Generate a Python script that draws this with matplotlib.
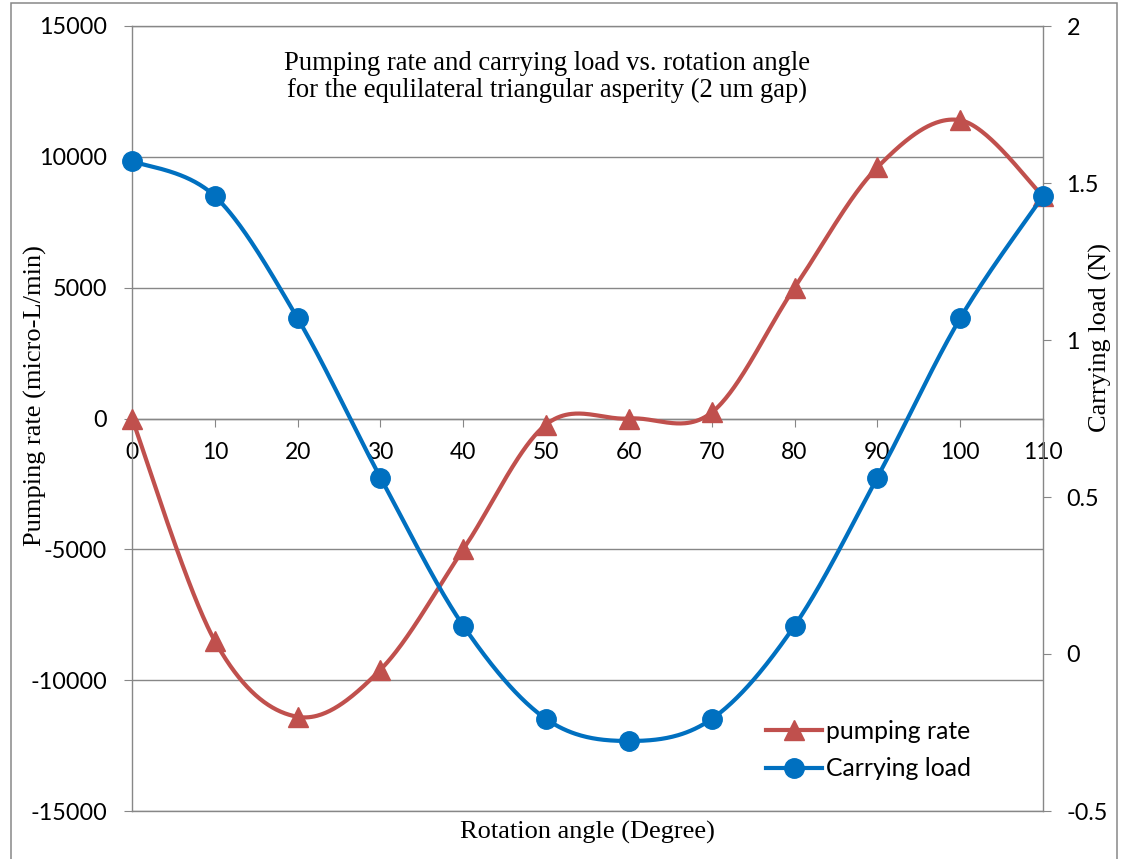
import numpy as np
import matplotlib
matplotlib.use("Agg")
import matplotlib.pyplot as plt
from matplotlib.lines import Line2D
from matplotlib.patches import Rectangle

# ---- data ----
angles = [0, 10, 20, 30, 40, 50, 60, 70, 80, 90, 100, 110]
pumping_rate = [0, -8500, -11400, -9600, -5000, -230, 0, 230, 5000, 9600, 11400, 8500]
carrying_load = [1.57, 1.458, 1.069, 0.562, 0.09, -0.207, -0.277, -0.207, 0.09, 0.562, 1.069, 1.458]

left_ticks = [-15000, -10000, -5000, 0, 5000, 10000, 15000]
right_ticks = [-0.5, 0, 0.5, 1, 1.5, 2]
right_tick_labels = ["-0.5", "0", "0.5", "1", "1.5", "2"]
x_ticks = angles

title_text = ("Pumping rate and carrying load vs. rotation angle\n"
              "for the equlilateral triangular asperity (2 um gap)")

RED = "#C0504D"
BLUE = "#0070C0"
GRID = "#878787"
SANS = "Lato"
SERIF = "Liberation Serif"


def excel_smooth(x, y, n=60):
    """Bezier smoothing similar to Excel's 'smoothed line'."""
    x = np.asarray(x, float)
    y = np.asarray(y, float)
    px = np.concatenate([[x[0]], x, [x[-1]]])
    py = np.concatenate([[y[0]], y, [y[-1]]])
    xs, ys = [], []
    t = np.linspace(0, 1, n)
    for i in range(len(x) - 1):
        p0 = np.array([px[i + 1], py[i + 1]])
        p3 = np.array([px[i + 2], py[i + 2]])
        pm = np.array([px[i], py[i]])
        pp = np.array([px[i + 3], py[i + 3]])
        c1 = p0 + (p3 - pm) / 6.0
        c2 = p3 - (pp - p0) / 6.0
        b = ((1 - t) ** 3)[:, None] * p0 + (3 * (1 - t) ** 2 * t)[:, None] * c1 \
            + (3 * (1 - t) * t ** 2)[:, None] * c2 + (t ** 3)[:, None] * p3
        xs.append(b[:, 0])
        ys.append(b[:, 1])
    return np.concatenate(xs), np.concatenate(ys)


W, H = 1122, 859
fig = plt.figure(figsize=(W / 100, H / 100), dpi=100)

# outer chart border
fig.patches.append(Rectangle((11 / W, -0.01), (1117 - 11) / W, 1.01 - 3 / H,
                             transform=fig.transFigure, fill=False,
                             edgecolor=GRID, linewidth=1.1))

ax = fig.add_axes([132 / W, 1 - 811 / H, (1043 - 132) / W, (811 - 26) / H])
ax2 = ax.twinx()

ax.set_xlim(0, 110)
ax.set_ylim(-15000, 15000)
ax2.set_ylim(-0.5, 2)

# grid & spines
ax.set_yticks(left_ticks)
ax.set_yticklabels([str(v) for v in left_ticks])
ax.yaxis.grid(True, color=GRID, linewidth=1.0)
ax.set_axisbelow(True)
for a in (ax, ax2):
    for s in a.spines.values():
        s.set_color(GRID)
        s.set_linewidth(1.0)
ax.spines["right"].set_visible(False)
ax.spines["bottom"].set_position(("data", 0))
ax2.spines["left"].set_visible(False)
ax2.spines["bottom"].set_visible(False)
ax2.spines["top"].set_visible(False)
ax.axhline(-15000, color=GRID, linewidth=1.0, clip_on=False, zorder=0)

ax.set_xticks(x_ticks)
ax.set_xticklabels([str(v) for v in x_ticks])
ax.tick_params(axis="x", direction="out", length=6, color=GRID, pad=11,
               labelsize=16.5, labelfontfamily=SANS)
ax.tick_params(axis="y", direction="out", length=6, color=GRID, pad=12,
               labelsize=16.8, labelfontfamily=SANS)
ax2.set_yticks(right_ticks)
ax2.set_yticklabels(right_tick_labels)
ax2.tick_params(axis="y", direction="out", length=6, color=GRID, pad=11,
                labelsize=16.8, labelfontfamily=SANS)

# series
sx, sy = excel_smooth(angles, pumping_rate)
ax.plot(sx, sy, color=RED, linewidth=3.0, solid_capstyle="round", zorder=3, clip_on=False)
ax.plot(angles, pumping_rate, linestyle="none", marker="^", markersize=14,
        color=RED, zorder=3, clip_on=False)

cx, cy = excel_smooth(angles, carrying_load)
ax2.plot(cx, cy, color=BLUE, linewidth=3.0, solid_capstyle="round", zorder=4, clip_on=False)
ax2.plot(angles, carrying_load, linestyle="none", marker="o", markersize=14,
         color=BLUE, zorder=4, clip_on=False)

# labels
fig.text(547 / W, 1 - 77 / H, title_text, ha="center", va="center",
         fontsize=19.2, family=SERIF, linespacing=1.12)
fig.text(35 / W, 1 - 396 / H, "Pumping rate (micro-L/min)", rotation=90,
         ha="center", va="center", fontsize=19, family=SERIF)
fig.text(1100 / W, 1 - 338 / H, "Carrying load (N)", rotation=90,
         ha="center", va="center", fontsize=19, family=SERIF)
fig.text(587 / W, 1 - 832 / H, "Rotation angle (Degree)",
         ha="center", va="center", fontsize=19, family=SERIF)

# legend
handles = [
    Line2D([], [], color=RED, linewidth=3.0, marker="^", markersize=14),
    Line2D([], [], color=BLUE, linewidth=3.0, marker="o", markersize=14),
]
leg = fig.legend(handles, ["pumping rate", "Carrying load"],
                 loc="center left", bbox_to_anchor=(754 / W, 1 - 750 / H),
                 frameon=False, handlelength=2.25, handletextpad=0.15,
                 labelspacing=0.6, borderpad=0.0,
                 prop={"family": SANS, "size": 17.8})

fig.savefig("out.png", dpi=100)
